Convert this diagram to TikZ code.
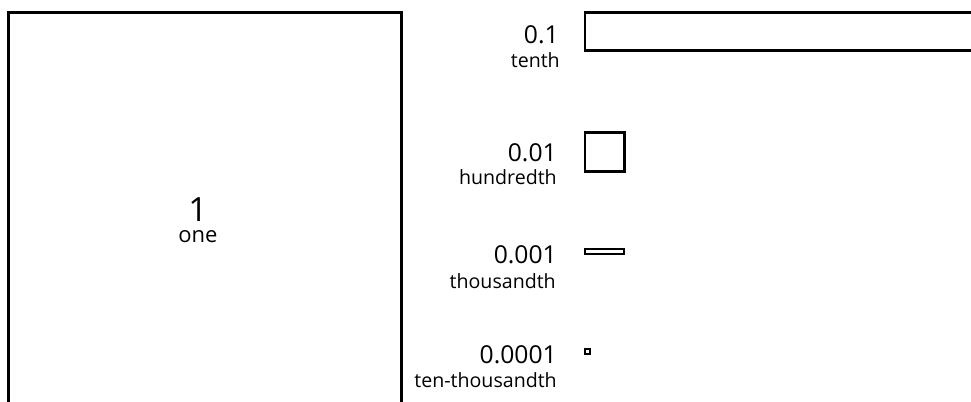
\documentclass[tikz,border=0pt]{standalone}
\usepackage{fontspec}
\setmainfont{Open Sans}
\usetikzlibrary{positioning}

\tikzset{
  box/.style={draw=black, line width=1.9pt},
  tinybox/.style={draw=black, line width=1.5pt},
  num/.style={anchor=base east, inner sep=0pt, font=\fontsize{18.5}{20}\selectfont},
  word/.style={anchor=base east, inner sep=0pt, font=\fontsize{14.7}{16}\selectfont},
}

\begin{document}
\begin{tikzpicture}[x=0.75pt,y=0.75pt]
\clip (0,0) rectangle (971,-402);
% one
\draw [box] (8.3,-12.3) rectangle (401.7,-430);
\node [anchor=base, inner sep=0pt, text depth=0pt, font=\fontsize{25}{27}\selectfont] (one) at (198,-222) {1};
\node [anchor=base, inner sep=0pt, font=\fontsize{16.5}{18}\selectfont] (onew) at (198,-243) {one};
% tenth
\draw [box] (584.8,-12.3) rectangle (1000,-50.7);
\node [num] (tenth) at (559,-44) {0.1};
\node [word] (tenthw) at (560,-68) {tenth};
% hundredth
\draw [box] (585,-132.3) rectangle (624.3,-171.7);
\node [num] (hundredth) at (557,-162) {0.01};
\node [word] (hundredthw) at (557,-185) {hundredth};
% thousandth
\draw [tinybox] (585,-249.2) rectangle (624.3,-253.8);
\node [num] (thousandth) at (557,-264) {0.001};
\node [word] (thousandthw) at (556,-289) {thousandth};
% ten-thousandth
\draw [tinybox] (585,-348.8) rectangle (590,-353.8);
\node [num] (tenthousandth) at (557,-364) {0.0001};
\node [word] (tenthousandthw) at (557,-388) {ten-thousandth};
\end{tikzpicture}
\end{document}
